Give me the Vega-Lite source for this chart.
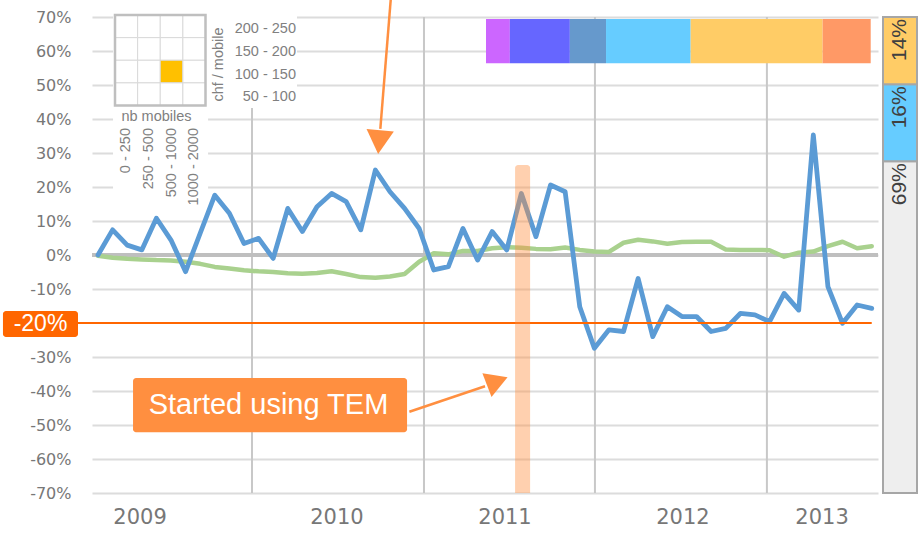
{
  "$schema": "https://vega.github.io/schema/vega-lite/v6.json",
  "width": 786,
  "height": 476,
  "autosize": {"type": "none"},
  "padding": {"left": 92, "top": 17, "right": 40, "bottom": 41},
  "background": "#ffffff",
  "config": {"view": {"stroke": null}, "text": {"font": "Liberation Sans"}},
  "resolve": {
    "scale": {"x": "independent", "y": "independent", "color": "independent", "size": "independent"},
    "axis": {"x": "independent", "y": "independent"}
  },
  "datasets": {
    "series": [
      {"period": 0, "spend": 0, "market": -0.2},
      {"period": 1, "spend": 7.4, "market": -0.8},
      {"period": 2, "spend": 2.9, "market": -1.1},
      {"period": 3, "spend": 1.5, "market": -1.3},
      {"period": 4, "spend": 10.8, "market": -1.5},
      {"period": 5, "spend": 4.4, "market": -1.6},
      {"period": 6, "spend": -4.9, "market": -2.0},
      {"period": 7, "spend": 6.4, "market": -2.6},
      {"period": 8, "spend": 17.6, "market": -3.5},
      {"period": 9, "spend": 12.3, "market": -4.0},
      {"period": 10, "spend": 3.4, "market": -4.5},
      {"period": 11, "spend": 4.9, "market": -4.8},
      {"period": 12, "spend": -1.0, "market": -5.0},
      {"period": 13, "spend": 13.7, "market": -5.4},
      {"period": 14, "spend": 6.9, "market": -5.5},
      {"period": 15, "spend": 14.2, "market": -5.3},
      {"period": 16, "spend": 18.1, "market": -4.8},
      {"period": 17, "spend": 15.7, "market": -5.6},
      {"period": 18, "spend": 7.4, "market": -6.5},
      {"period": 19, "spend": 25.0, "market": -6.7},
      {"period": 20, "spend": 18.6, "market": -6.3},
      {"period": 21, "spend": 13.7, "market": -5.6},
      {"period": 22, "spend": 7.8, "market": -2.0},
      {"period": 23, "spend": -4.4, "market": 0.5},
      {"period": 24, "spend": -3.4, "market": 0.2},
      {"period": 25, "spend": 7.8, "market": 1.2},
      {"period": 26, "spend": -1.5, "market": 1.2},
      {"period": 27, "spend": 6.9, "market": 2.0},
      {"period": 28, "spend": 1.5, "market": 2.3},
      {"period": 29, "spend": 18.1, "market": 2.1},
      {"period": 30, "spend": 5.4, "market": 1.8},
      {"period": 31, "spend": 20.6, "market": 1.7},
      {"period": 32, "spend": 18.6, "market": 2.2},
      {"period": 33, "spend": -15.2, "market": 1.5},
      {"period": 34, "spend": -27.4, "market": 1.0},
      {"period": 35, "spend": -22.0, "market": 0.9},
      {"period": 36, "spend": -22.5, "market": 3.6},
      {"period": 37, "spend": -6.9, "market": 4.5},
      {"period": 38, "spend": -24.0, "market": 4.0},
      {"period": 39, "spend": -15.2, "market": 3.3},
      {"period": 40, "spend": -18.1, "market": 3.8},
      {"period": 41, "spend": -18.1, "market": 3.9},
      {"period": 42, "spend": -22.5, "market": 3.9},
      {"period": 43, "spend": -21.6, "market": 1.6},
      {"period": 44, "spend": -17.2, "market": 1.5},
      {"period": 45, "spend": -17.6, "market": 1.5},
      {"period": 46, "spend": -19.6, "market": 1.4},
      {"period": 47, "spend": -11.3, "market": -0.5},
      {"period": 48, "spend": -16.2, "market": 0.7},
      {"period": 49, "spend": 35.3, "market": 1.0},
      {"period": 50, "spend": -9.3, "market": 2.6},
      {"period": 51, "spend": -20.1, "market": 3.9},
      {"period": 52, "spend": -14.7, "market": 2.0},
      {"period": 53, "spend": -15.7, "market": 2.6}
    ]
  },
  "layer": [
    {
      "data": {"values": [{"v": 0}]},
      "mark": {"type": "rule", "color": "#bfbfbf", "strokeWidth": 4},
      "encoding": {
        "y": {
          "field": "v", "type": "quantitative",
          "scale": {"domain": [-70, 70], "nice": false, "zero": false},
          "axis": {
            "orient": "left",
            "values": [-70, -60, -50, -40, -30, -10, 0, 10, 20, 30, 40, 50, 60, 70],
            "labelExpr": "datum.value + '%'",
            "grid": true, "gridColor": "#dcdcdc", "gridWidth": 2,
            "domain": false, "ticks": false,
            "labelFont": "DejaVu Sans", "labelFontSize": 16, "labelColor": "#777777",
            "labelPadding": 21, "title": null
          }
        }
      }
    },
    {
      "data": {"values": [{"split": 10.55}, {"split": 22.33}, {"split": 34.04}, {"split": 45.82}]},
      "mark": {"type": "rule", "color": "#c8c8c8", "strokeWidth": 2},
      "encoding": {
        "x": {"field": "split", "type": "quantitative", "scale": {"domain": [-0.411, 53.43], "nice": false, "zero": false}, "axis": null}
      }
    },
    {
      "data": {"values": [{"v": 0}]},
      "mark": {"type": "rule", "color": "#bfbfbf", "strokeWidth": 4},
      "encoding": {
        "y": {"field": "v", "type": "quantitative", "scale": {"domain": [-70, 70], "nice": false, "zero": false}, "axis": null}
      }
    },
    {
      "data": {"values": [{"x1": 1.03, "x2": 13.63, "y1": 72, "y2": 43.2}, {"x1": 1.03, "x2": 7.54, "y1": 43.2, "y2": 14.7}]},
      "mark": {"type": "rect", "fill": "#ffffff"},
      "encoding": {
        "x": {"field": "x1", "type": "quantitative", "scale": {"domain": [-0.411, 53.43], "nice": false, "zero": false}, "axis": null},
        "x2": {"field": "x2"},
        "y": {"field": "y1", "type": "quantitative", "scale": {"domain": [-70, 70], "nice": false, "zero": false}, "axis": null},
        "y2": {"field": "y2"}
      }
    },
    {
      "data": {"name": "series"},
      "mark": {"type": "line", "color": "#a9d18e", "strokeWidth": 4.5, "strokeJoin": "round", "strokeCap": "round"},
      "encoding": {
        "x": {"field": "period", "type": "quantitative", "scale": {"domain": [-0.411, 53.43], "nice": false, "zero": false}, "axis": null},
        "y": {"field": "market", "type": "quantitative", "scale": {"domain": [-70, 70], "nice": false, "zero": false}, "axis": null}
      }
    },
    {
      "data": {"name": "series"},
      "mark": {"type": "line", "color": "#5b9bd5", "strokeWidth": 4.8, "strokeJoin": "round", "strokeCap": "round"},
      "encoding": {
        "x": {"field": "period", "type": "quantitative", "scale": {"domain": [-0.411, 53.43], "nice": false, "zero": false}, "axis": null},
        "y": {"field": "spend", "type": "quantitative", "scale": {"domain": [-70, 70], "nice": false, "zero": false}, "axis": null}
      }
    },
    {
      "data": {"values": [{"x1": -1.37, "x2": 53.0, "v": -20}]},
      "mark": {"type": "rule", "color": "#ff6600", "strokeWidth": 2},
      "encoding": {
        "x": {"field": "x1", "type": "quantitative", "scale": {"domain": [-0.411, 53.43], "nice": false, "zero": false}, "axis": null},
        "x2": {"field": "x2"},
        "y": {"field": "v", "type": "quantitative", "scale": {"domain": [-70, 70], "nice": false, "zero": false}, "axis": null}
      }
    },
    {
      "data": {"values": [{"x1": 28.57, "x2": 29.6, "y1": 26.5, "y2": -70}]},
      "mark": {"type": "rect", "fill": "#ff8f40", "opacity": 0.42, "cornerRadiusTopLeft": 3, "cornerRadiusTopRight": 3},
      "encoding": {
        "x": {"field": "x1", "type": "quantitative", "scale": {"domain": [-0.411, 53.43], "nice": false, "zero": false}, "axis": null},
        "x2": {"field": "x2"},
        "y": {"field": "y1", "type": "quantitative", "scale": {"domain": [-70, 70], "nice": false, "zero": false}, "axis": null},
        "y2": {"field": "y2"}
      }
    },
    {
      "data": {"values": [{"x1": 20.05, "y1": 75, "x2": 19.34, "y2": 37.1}, {"x1": 21.33, "y1": -46.1, "x2": 26.51, "y2": -38.6}]},
      "mark": {"type": "rule", "color": "#ff8f40", "strokeWidth": 2.5},
      "encoding": {
        "x": {"field": "x1", "type": "quantitative", "scale": {"domain": [-0.411, 53.43], "nice": false, "zero": false}, "axis": null},
        "x2": {"field": "x2"},
        "y": {"field": "y1", "type": "quantitative", "scale": {"domain": [-70, 70], "nice": false, "zero": false}, "axis": null},
        "y2": {"field": "y2"}
      }
    },
    {
      "data": {"values": [{"x": 19.26, "y": 33.2}]},
      "mark": {"type": "point", "shape": "triangle-down", "angle": 5, "size": 750, "filled": true, "color": "#ff8f40", "opacity": 1},
      "encoding": {
        "x": {"field": "x", "type": "quantitative", "scale": {"domain": [-0.411, 53.43], "nice": false, "zero": false}, "axis": null},
        "y": {"field": "y", "type": "quantitative", "scale": {"domain": [-70, 70], "nice": false, "zero": false}, "axis": null}
      }
    },
    {
      "data": {"values": [{"x": 27.35, "y": -37.1}]},
      "mark": {"type": "point", "shape": "triangle-right", "angle": 339, "size": 650, "filled": true, "color": "#ff8f40", "opacity": 1},
      "encoding": {
        "x": {"field": "x", "type": "quantitative", "scale": {"domain": [-0.411, 53.43], "nice": false, "zero": false}, "axis": null},
        "y": {"field": "y", "type": "quantitative", "scale": {"domain": [-70, 70], "nice": false, "zero": false}, "axis": null}
      }
    },
    {
      "data": {"values": [
        {"note": "Started using TEM", "x1": 2.4, "x2": 21.17, "y1": -36.2, "y2": -52.1, "xm": 11.68, "ym": -44.1, "kind": "tem"},
        {"note": "-20%", "x1": -6.51, "x2": -1.37, "y1": -16.5, "y2": -24.1, "xm": -3.94, "ym": -20.3, "kind": "target"}
      ]},
      "layer": [
        {
          "mark": {"type": "rect", "cornerRadius": 3},
          "encoding": {
            "x": {"field": "x1", "type": "quantitative", "scale": {"domain": [-0.411, 53.43], "nice": false, "zero": false}, "axis": null},
            "x2": {"field": "x2"},
            "y": {"field": "y1", "type": "quantitative", "scale": {"domain": [-70, 70], "nice": false, "zero": false}, "axis": null},
            "y2": {"field": "y2"},
            "color": {"field": "kind", "type": "nominal", "scale": {"domain": ["tem", "target"], "range": ["#ff8f40", "#ff6600"]}, "legend": null}
          }
        },
        {
          "mark": {"type": "text", "color": "#ffffff", "font": "Liberation Sans", "align": "center", "baseline": "middle"},
          "encoding": {
            "x": {"field": "xm", "type": "quantitative", "scale": {"domain": [-0.411, 53.43], "nice": false, "zero": false}, "axis": null},
            "y": {"field": "ym", "type": "quantitative", "scale": {"domain": [-70, 70], "nice": false, "zero": false}, "axis": null},
            "text": {"field": "note"},
            "size": {"field": "kind", "type": "nominal", "scale": {"domain": ["tem", "target"], "range": [29, 23]}, "legend": null}
          }
        }
      ]
    },
    {
      "data": {"values": [{"year": "2009", "pos": 2.88}, {"year": "2010", "pos": 16.37}, {"year": "2011", "pos": 27.88}, {"year": "2012", "pos": 40.07}, {"year": "2013", "pos": 49.6}]},
      "mark": {"type": "text", "font": "DejaVu Sans", "fontSize": 21, "color": "#777777", "align": "center", "baseline": "middle"},
      "encoding": {
        "x": {"field": "pos", "type": "quantitative", "scale": {"domain": [-0.411, 53.43], "nice": false, "zero": false}, "axis": null},
        "y": {"datum": -77.4, "type": "quantitative", "scale": {"domain": [-70, 70], "nice": false, "zero": false}, "axis": null},
        "text": {"field": "year"}
      }
    },
    {
      "data": {
        "values": [
          {"nb": "0 - 250", "chf": "200 - 250", "selected": "no"},
          {"nb": "250 - 500", "chf": "200 - 250", "selected": "no"},
          {"nb": "500 - 1000", "chf": "200 - 250", "selected": "no"},
          {"nb": "1000 - 2000", "chf": "200 - 250", "selected": "no"},
          {"nb": "0 - 250", "chf": "150 - 200", "selected": "no"},
          {"nb": "250 - 500", "chf": "150 - 200", "selected": "no"},
          {"nb": "500 - 1000", "chf": "150 - 200", "selected": "no"},
          {"nb": "1000 - 2000", "chf": "150 - 200", "selected": "no"},
          {"nb": "0 - 250", "chf": "100 - 150", "selected": "no"},
          {"nb": "250 - 500", "chf": "100 - 150", "selected": "no"},
          {"nb": "500 - 1000", "chf": "100 - 150", "selected": "yes"},
          {"nb": "1000 - 2000", "chf": "100 - 150", "selected": "no"},
          {"nb": "0 - 250", "chf": "50 - 100", "selected": "no"},
          {"nb": "250 - 500", "chf": "50 - 100", "selected": "no"},
          {"nb": "500 - 1000", "chf": "50 - 100", "selected": "no"},
          {"nb": "1000 - 2000", "chf": "50 - 100", "selected": "no"}
        ]
      },
      "mark": {"type": "rect", "stroke": "#d9d9d9", "strokeWidth": 1},
      "encoding": {
        "x": {
          "field": "nb", "type": "ordinal",
          "scale": {"type": "band", "domain": ["0 - 250", "250 - 500", "500 - 1000", "1000 - 2000"], "range": [23, 113.5], "paddingInner": 0, "paddingOuter": 0},
          "axis": {
            "orient": "bottom", "offset": -387.5, "domain": false, "ticks": false, "grid": false,
            "labelAngle": -90, "labelAlign": "right", "labelBaseline": "middle", "labelPadding": 22,
            "labelFont": "Liberation Sans", "labelFontSize": 14.5, "labelColor": "#808080", "labelOverlap": false,
            "title": "nb mobiles", "titleFont": "Liberation Sans", "titleFontSize": 14.5, "titleFontWeight": "normal",
            "titleColor": "#808080", "titleX": 64, "titleY": 4, "titleBaseline": "top", "titleAlign": "center"
          }
        },
        "y": {
          "field": "chf", "type": "ordinal",
          "scale": {"type": "band", "domain": ["200 - 250", "150 - 200", "100 - 150", "50 - 100"], "range": [-2, 88.5], "paddingInner": 0, "paddingOuter": 0},
          "axis": {
            "orient": "right", "offset": -672.5, "domain": false, "ticks": false, "grid": false,
            "labelAlign": "right", "labelBaseline": "middle", "labelPadding": 90, "labelOffset": 3,
            "labelFont": "Liberation Sans", "labelFontSize": 14.5, "labelColor": "#808080", "labelOverlap": false,
            "title": "chf / mobile", "titleFont": "Liberation Sans", "titleFontSize": 14.5, "titleFontWeight": "normal",
            "titleColor": "#808080", "titleAngle": 270, "titleX": 13, "titleY": 47, "titleAlign": "center", "titleBaseline": "middle"
          }
        },
        "color": {"field": "selected", "type": "nominal", "scale": {"domain": ["no", "yes"], "range": ["#ffffff", "#ffc000"]}, "legend": null}
      }
    },
    {
      "data": {"values": [{"frame": "inset"}]},
      "mark": {"type": "rect", "fill": "transparent", "stroke": "#bfbfbf", "strokeWidth": 2.5},
      "encoding": {
        "x": {"datum": 0, "type": "quantitative", "scale": {"domain": [0, 1], "range": [23, 113.5], "nice": false, "zero": false}, "axis": null},
        "x2": {"datum": 1},
        "y": {"datum": 0, "type": "quantitative", "scale": {"domain": [0, 1], "range": [-2, 88.5], "nice": false, "zero": false}, "axis": null},
        "y2": {"datum": 1}
      }
    },
    {
      "data": {
        "values": [
          {"segment": "A", "share": 6.2, "order": 1},
          {"segment": "B", "share": 15.6, "order": 2},
          {"segment": "C", "share": 9.4, "order": 3},
          {"segment": "D", "share": 22.0, "order": 4},
          {"segment": "E", "share": 34.3, "order": 5},
          {"segment": "F", "share": 12.5, "order": 6}
        ]
      },
      "transform": [{"stack": "share", "groupby": [], "sort": [{"field": "order", "order": "ascending"}], "as": ["s0", "s1"]}],
      "mark": {"type": "rect"},
      "encoding": {
        "x": {"field": "s0", "type": "quantitative", "scale": {"domain": [0, 100], "range": [394, 778.7], "nice": false, "zero": false}, "axis": null},
        "x2": {"field": "s1"},
        "y": {"datum": "mix", "type": "nominal", "scale": {"range": [2, 46.3], "paddingInner": 0, "paddingOuter": 0}, "axis": null},
        "color": {"field": "segment", "type": "nominal", "scale": {"domain": ["A", "B", "C", "D", "E", "F"], "range": ["#cc66ff", "#6666ff", "#6699cc", "#66ccff", "#ffcc66", "#ff9966"]}, "legend": null}
      }
    },
    {
      "data": {
        "values": [
          {"label": "69%", "share": 69, "order": 1, "group": "other"},
          {"label": "16%", "share": 16, "order": 2, "group": "blue"},
          {"label": "14%", "share": 14, "order": 3, "group": "yellow"}
        ]
      },
      "transform": [{"stack": "share", "groupby": [], "sort": [{"field": "order", "order": "ascending"}], "as": ["v0", "v1"]}],
      "layer": [
        {
          "mark": {"type": "rect", "stroke": "#a6a6a6", "strokeWidth": 2},
          "encoding": {
            "x": {"datum": "total", "type": "nominal", "scale": {"range": [791, 825], "paddingInner": 0, "paddingOuter": 0}, "axis": null},
            "y": {"field": "v0", "type": "quantitative", "scale": {"domain": [0, 99], "nice": false, "zero": false}, "axis": null},
            "y2": {"field": "v1"},
            "color": {"field": "group", "type": "nominal", "scale": {"domain": ["other", "blue", "yellow"], "range": ["#eeeeee", "#66ccff", "#ffcc66"]}, "legend": null}
          }
        },
        {
          "mark": {"type": "text", "angle": 270, "align": "right", "baseline": "middle", "dx": -2, "font": "Liberation Sans", "fontSize": 21, "color": "#404040"},
          "encoding": {
            "x": {"datum": "total", "type": "nominal", "scale": {"range": [791, 825], "paddingInner": 0, "paddingOuter": 0}, "axis": null},
            "y": {"field": "v1", "type": "quantitative", "scale": {"domain": [0, 99], "nice": false, "zero": false}, "axis": null},
            "text": {"field": "label"}
          }
        }
      ]
    }
  ]
}
